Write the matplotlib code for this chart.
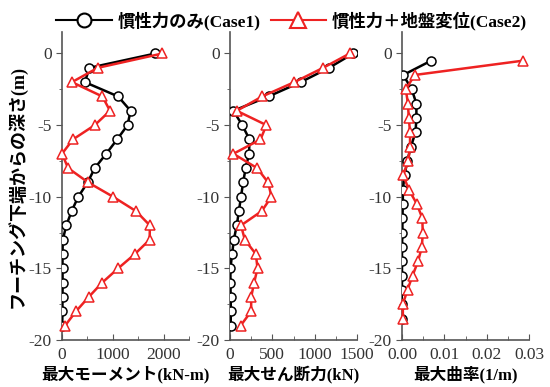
import matplotlib
matplotlib.use("Agg")
import matplotlib.pyplot as plt
from matplotlib.ticker import MultipleLocator
from matplotlib.lines import Line2D

plt.rcParams['font.family'] = ['Liberation Serif', 'Noto Sans CJK JP']
plt.rcParams['axes.unicode_minus'] = False

# depths (m)
depth = [0, -1, -2, -3, -4, -5, -6, -7, -8, -9, -10,
         -11, -12, -13, -14, -15, -16, -17, -18, -19]
depth_k = [-0.5, -1.5, -2.5, -3.5, -4.5, -5.5, -6.5, -7.5, -8.5, -9.5,
           -10.5, -11.5, -12.5, -13.5, -14.5, -15.5, -16.5, -17.5, -18.5]

# max moment (kN-m)
moment_c1 = [1840, 540, 450, 1105, 1350, 1290, 1085, 870, 645, 505, 320,
             190, 85, 15, 10, 10, 12, 10, 8, 5]
moment_c2 = [1975, 705, 195, 795, 945, 645, 215, 0, 120, 515, 1005,
             1455, 1730, 1725, 1435, 1105, 790, 525, 275, 60]

# max shear (kN)
shear_c1 = [1455, 1170, 835, 455, 40, 145, 230, 225, 185, 155, 130,
            105, 80, 45, 25, 5, 5, 8, 10, 8]
shear_c2 = [1415, 1100, 760, 380, 80, 430, 360, 40, 320, 450, 490,
            375, 130, 175, 305, 325, 285, 250, 250, 125]

# max curvature (1/m)
curv_c1 = [0.0069, 0.0003, 0.0023, 0.0034, 0.0034, 0.0032, 0.0021, 0.00125,
           0.0006, 0.0002, 0.0002, 0.0001, 0.0001, 0.0, 0.0, 0.0, 0.0,
           -0.0001, 0.0]
curv_c2 = [0.0286, 0.0030, 0.0009, 0.0014, 0.0016, 0.0019, 0.0019, 0.0015,
           0.0003, 0.0016, 0.0035, 0.0048, 0.0049, 0.0047, 0.0038, 0.0025,
           0.0013, 0.0002, 0.0002]

labels = ['慣性力のみ(Case1)', '慣性力＋地盤変位(Case2)']
xlabels = ['最大モーメント(kN-m)', '最大せん断力(kN)', '最大曲率(1/m)']

fig = plt.figure(figsize=(5.5, 3.87), dpi=100)
lefts = [62 / 550, 230 / 550, 402 / 550]
w = 127 / 550
bottom = 1 - 340 / 387
h = (340 - 32) / 387

panels = [
    (depth, moment_c1, moment_c2, (0, 2500), 1000, 500, None),
    (depth, shear_c1, shear_c2, (0, 1500), 500, 250, None),
    (depth_k, curv_c1, curv_c2, (0, 0.03), 0.01, 0.005, '%.2f'),
]

spine_c = '#555555'
for i, (y, c1, c2, xl, maj, mnr, fmt) in enumerate(panels):
    ax = fig.add_axes([lefts[i], bottom, w, h])
    ax.plot(c1, y, color='black', lw=1.8, marker='o', ms=6.5,
            mfc='white', mec='black', mew=1.1, zorder=3)
    ax.plot(c2, y, color='#ee2222', lw=1.8, marker='^', ms=7.5,
            mfc='white', mec='#ee2222', mew=1.1, zorder=4, clip_on=False)
    ax.set_xlim(*xl)
    ax.set_ylim(-20, 1.5)
    ax.xaxis.set_major_locator(MultipleLocator(maj))
    ax.xaxis.set_minor_locator(MultipleLocator(mnr))
    ax.yaxis.set_major_locator(MultipleLocator(5))
    ax.yaxis.set_minor_locator(MultipleLocator(2.5))
    if fmt:
        ax.xaxis.set_major_formatter(plt.FormatStrFormatter(fmt))
    for s in ['top', 'right']:
        ax.spines[s].set_visible(False)
    for s in ['left', 'bottom']:
        ax.spines[s].set_color(spine_c)
        ax.spines[s].set_linewidth(1.2)
    ax.tick_params(axis='x', which='both', direction='in', colors=spine_c,
                   labelcolor='#333333', labelsize=12.5, pad=5)
    ax.tick_params(axis='x', which='major', length=4)
    ax.tick_params(axis='x', which='minor', length=3)
    ax.tick_params(axis='y', which='both', direction='out', colors=spine_c,
                   labelcolor='#333333', labelsize=12.5)
    ax.tick_params(axis='y', which='major', length=4)
    ax.tick_params(axis='y', which='minor', length=2)
    ax.set_xlabel(xlabels[i], fontsize=12, fontweight='bold', labelpad=2)
    if i == 0:
        ax.set_ylabel('フーチング下端からの深さ(m)', fontsize=13,
                      fontweight='bold', labelpad=1)

handles = [
    Line2D([], [], color='black', lw=1.5, marker='o', ms=10,
           mfc='white', mec='black', mew=1.5),
    Line2D([], [], color='#ee2222', lw=1.5, marker='^', ms=11,
           mfc='white', mec='#ee2222', mew=1.5),
]
fig.legend(handles, labels, loc='upper center', bbox_to_anchor=(0.53, 1.01),
           ncol=2, frameon=False, handlelength=3.2, columnspacing=0.6,
           handletextpad=0.3, prop={'size': 12.5, 'weight': 'bold'})

fig.savefig('out.png', dpi=100)
